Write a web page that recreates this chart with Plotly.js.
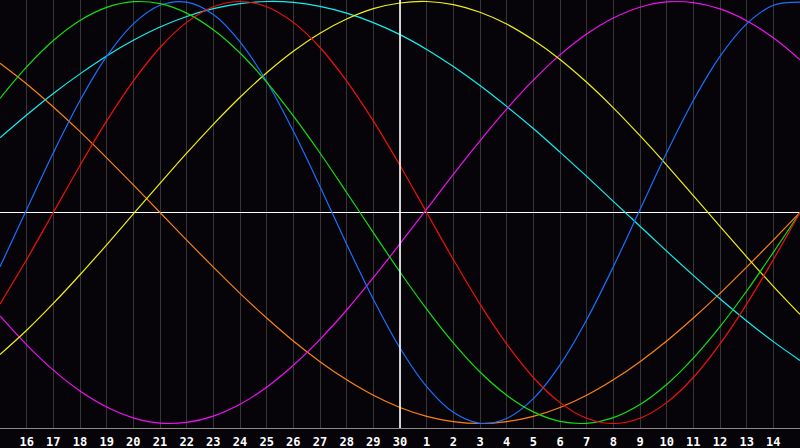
<!DOCTYPE html>
<html>
<head>
<meta charset="utf-8">
<script src="https://cdn.plot.ly/plotly-3.0.1.min.js"></script>
<style>
html,body{margin:0;padding:0;background:#060409;}
#chart{width:800px;height:448px;}
</style>
</head>
<body>
<div id="chart"></div>
<script>
// Day offsets across the chart (0 = left edge, 30 = right edge)
var days = [0,1,2,3,4,5,6,7,8,9,10,11,12,13,14,15,16,17,18,19,20,21,22,23,24,25,26,27,28,29,30];
// Tick positions and labels (calendar day numbers)
var tickPos = [1,2,3,4,5,6,7,8,9,10,11,12,13,14,15,16,17,18,19,20,21,22,23,24,25,26,27,28,29];
var tickLabels = ["16","17","18","19","20","21","22","23","24","25","26","27","28","29","30",
                  "1","2","3","4","5","6","7","8","9","10","11","12","13","14"];
var todayPos = 15;

// Cycle values (-1 .. 1), one per day
var redVals = [-0.434,-0.223,0,0.223,0.434,0.623,0.782,0.901,0.975,1.000,0.975,0.901,0.782,0.623,0.434,0.223,0,
               -0.223,-0.434,-0.623,-0.782,-0.901,-0.975,-1.000,-0.975,-0.901,-0.782,-0.623,-0.434,-0.223,0];
var greenVals = [0.541,0.690,0.815,0.910,0.972,0.999,0.990,0.945,0.866,0.756,0.618,0.458,0.282,0.095,-0.095,-0.282,
                 -0.458,-0.618,-0.756,-0.866,-0.945,-0.990,-0.999,-0.972,-0.910,-0.815,-0.690,-0.541,-0.372,-0.189,0];
var blueVals = [-0.257,0.014,0.283,0.531,0.740,0.894,0.982,0.997,0.938,0.809,0.621,0.386,0.123,-0.150,-0.411,-0.642,
                -0.825,-0.947,-0.999,-0.976,-0.882,-0.722,-0.508,-0.257,0.014,0.283,0.531,0.740,0.894,0.982,0.997];
var yellowVals = [-0.673,-0.558,-0.431,-0.295,-0.153,-0.007,0.138,0.281,0.418,0.546,0.662,0.764,0.850,0.917,0.966,0.993,
                  1.000,0.985,0.949,0.893,0.817,0.725,0.617,0.496,0.364,0.225,0.080,-0.066,-0.210,-0.350,-0.483];
var cyanVals = [0.354,0.462,0.564,0.657,0.742,0.816,0.879,0.929,0.966,0.990,1.000,0.996,0.977,0.945,0.900,0.843,
                0.773,0.692,0.602,0.503,0.398,0.286,0.171,0.053,-0.065,-0.183,-0.298,-0.409,-0.514,-0.612,-0.701];
var magentaVals = [-0.490,-0.627,-0.747,-0.846,-0.922,-0.973,-0.998,-0.995,-0.965,-0.909,-0.828,-0.724,-0.601,-0.462,
                   -0.309,-0.148,0.016,0.181,0.340,0.490,0.627,0.747,0.846,0.922,0.973,0.998,0.995,0.965,0.909,0.828,0.724];
var orangeVals = [0.707,0.609,0.5,0.383,0.259,0.131,0,-0.131,-0.259,-0.383,-0.5,-0.609,-0.707,-0.793,-0.866,-0.924,
                  -0.966,-0.991,-1,-0.991,-0.966,-0.924,-0.866,-0.793,-0.707,-0.609,-0.5,-0.383,-0.259,-0.131,0];

var seriesNames = ["Orange","Cyan","Magenta","Yellow","Blue","Green","Red"];
var seriesVals = [orangeVals, cyanVals, magentaVals, yellowVals, blueVals, greenVals, redVals];
var seriesColors = ["#ff8010","#10f0f0","#f010f0","#f0f010","#1870ff","#10e010","#f01010"];

var traces = seriesVals.map(function(v, i){
  return {
    x: days, y: v, type: 'scatter', mode: 'lines', name: seriesNames[i],
    line: {color: seriesColors[i], width: 1.2, shape: 'spline', smoothing: 1},
    hoverinfo: 'skip'
  };
});

var layout = {
  width: 800, height: 448,
  margin: {l: 0, r: 0, t: 0, b: 20, pad: 0},
  paper_bgcolor: '#060409',
  plot_bgcolor: '#060409',
  showlegend: false,
  xaxis: {
    range: [0, 30], fixedrange: true,
    tickmode: 'array', tickvals: tickPos, ticktext: tickLabels,
    showgrid: true, gridcolor: '#363636', gridwidth: 1,
    zeroline: false,
    showline: true, linecolor: '#8a8a8a', linewidth: 1, mirror: true,
    ticks: 'outside', ticklen: 3, tickcolor: 'rgba(0,0,0,0)',
    tickfont: {family: 'DejaVu Sans Mono', size: 12, color: '#ffffff', weight: 'bold'}
  },
  yaxis: {
    range: [-1.0213, 1.0071], fixedrange: true,
    showticklabels: false, showgrid: false, ticks: '',
    zeroline: true, zerolinecolor: '#ffffff', zerolinewidth: 1.6,
    showline: true, linecolor: '#8a8a8a', linewidth: 1
  },
  shapes: [{
    type: 'line', xref: 'x', yref: 'paper', x0: todayPos, x1: todayPos, y0: 0, y1: 1,
    line: {color: '#ffffff', width: 1.6}, layer: 'above'
  }]
};

Plotly.newPlot('chart', traces, layout, {staticPlot: true, displayModeBar: false});
</script>
</body>
</html>
